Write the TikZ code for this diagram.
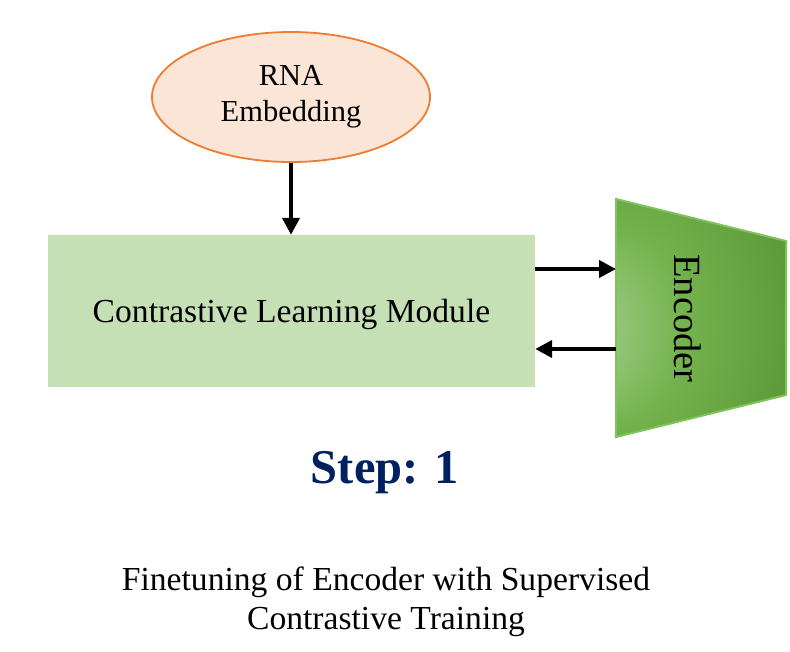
\documentclass[tikz,border=0pt]{standalone}
\usepackage{fontspec}
\setmainfont{Liberation Serif}
\usetikzlibrary{shapes.geometric,arrows.meta}
\definecolor{embfill}{HTML}{FBE5D6}
\definecolor{embdraw}{HTML}{ED7D31}
\definecolor{clmfill}{HTML}{C5E0B4}
\definecolor{encL}{HTML}{A3CF8C}
\definecolor{encM}{HTML}{74B24D}
\definecolor{encN}{HTML}{5E9C3B}
\definecolor{encR}{HTML}{4D872F}
\definecolor{encB}{HTML}{80C35C}
\definecolor{stepblue}{HTML}{002060}
\pgfdeclareradialshading{encshade}{\pgfpoint{-40bp}{-3bp}}{color(0bp)=(encL); color(3bp)=(encL); color(20bp)=(encM); color(37bp)=(encN); color(52bp)=(encR)}
\begin{document}
\begin{tikzpicture}[x=1pt,y=-1pt,
  conn/.style={line width=4pt,-{Triangle[length=17pt,width=17pt]}},
  embnode/.style={ellipse,draw=embdraw,fill=embfill,line width=1.8pt,minimum width=278pt,minimum height=130pt,inner sep=0pt,align=center,font=\fontsize{30.5}{36}\selectfont},
  clmnode/.style={fill=clmfill,minimum width=487pt,minimum height=152pt,inner sep=0pt,text depth=0pt,font=\fontsize{33.6}{38}\selectfont},
  enctext/.style={rotate=-90,font=\fontsize{38.5}{44}\selectfont,inner sep=0pt},
  steptext/.style={text=stepblue,font=\bfseries\fontsize{48.5}{58}\selectfont,inner sep=0pt},
  captext/.style={align=center,inner sep=0pt,font=\fontsize{33.6}{38.5}\selectfont}]
\useasboundingbox (0,0) rectangle (790,651);
\node[embnode] (emb) at (291,97) {RNA\\Embedding};
\node[clmnode] (clm) at (291.5,311) {Contrastive Learning Module};
\coordinate (e1) at (616,199);
\coordinate (e2) at (786,241);
\coordinate (e3) at (786,395);
\coordinate (e4) at (616,437);
\path[shading=encshade,draw=encB,line width=2pt] (e1) -- (e2) -- (e3) -- (e4) -- cycle;
\node[enctext] (enc) at (688,318.5) {Encoder};
\draw[conn] (emb.south) -- (clm.north -| emb.south);
\draw[conn] ([yshift=42pt]clm.east) -- ([yshift=42pt]clm.east -| e1);
\draw[conn] ([yshift=-38pt]clm.east -| e1) -- ([yshift=-38pt]clm.east);
\node[steptext,anchor=base] (step) at (385,483) {Step: 1};
\node[captext] (cap) at (386,602) {Finetuning of Encoder with Supervised\\Contrastive Training};
\end{tikzpicture}
\end{document}
